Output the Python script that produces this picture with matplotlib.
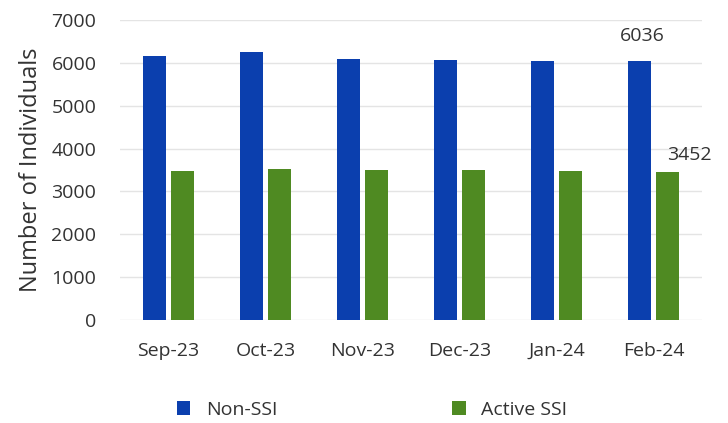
import numpy as np
import matplotlib.pyplot as plt

plt.rcParams['font.family'] = ['Open Sans', 'DejaVu Sans']

months = ['Sep-23', 'Oct-23', 'Nov-23', 'Dec-23', 'Jan-24', 'Feb-24']
non_ssi = [6150, 6260, 6090, 6070, 6040, 6036]
active_ssi = [3480, 3530, 3490, 3490, 3480, 3452]

blue = '#0b3fae'
green = '#4f8a22'
txt = '#333333'

fig = plt.figure(figsize=(7.28, 4.23), dpi=100)
ax = fig.add_axes([120/728, 1 - 320/423, 582/728, 300/423])

x = np.arange(len(months))
w = 0.23
b1 = ax.bar(x - 0.145, non_ssi, w, color=blue, label='Non-SSI')
b2 = ax.bar(x + 0.145, active_ssi, w, color=green, label='Active SSI')

ax.set_ylim(0, 7000)
ax.set_xlim(-0.5, 5.5)
ax.set_yticks(range(0, 7001, 1000))
ax.set_xticks(x)
ax.set_xticklabels(months)
ax.grid(axis='y', color='#e4e4e4', linewidth=1)
ax.set_axisbelow(True)
for s in ax.spines.values():
    s.set_visible(False)
ax.tick_params(length=0, labelsize=14, colors=txt)
ax.tick_params(axis='x', pad=16)
ax.tick_params(axis='y', pad=17)
ax.set_ylabel('Number of Individuals', fontsize=17, color=txt, labelpad=6)

# labels on last month only
ax.annotate(str(non_ssi[-1]), (x[-1] - 0.145, non_ssi[-1]), xytext=(2, 12),
            textcoords='offset points', ha='center', va='bottom', fontsize=14, color=txt)
ax.annotate(str(active_ssi[-1]), (x[-1] + 0.145, active_ssi[-1]), xytext=(16, 6),
            textcoords='offset points', ha='center', va='bottom', fontsize=14, color=txt)

fig.legend(handles=[b1, b2], loc='center', bbox_to_anchor=(372/728, 1 - 410/423),
           ncol=2, frameon=False, fontsize=14, handlelength=0.7, handleheight=0.7,
           columnspacing=9, labelcolor=txt)

fig.savefig('out.png', dpi=100)
